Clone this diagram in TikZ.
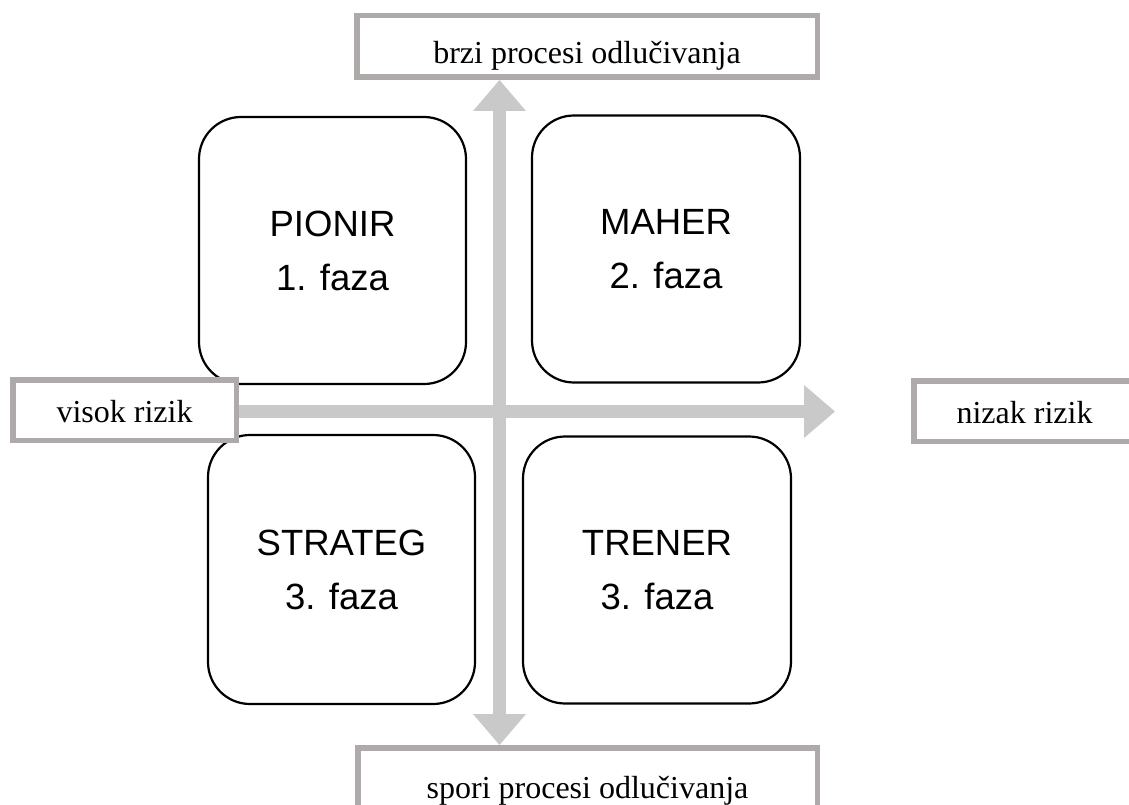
\documentclass[tikz,border=0pt]{standalone}
\usepackage{fontspec}
\setmainfont{Liberation Serif}
\newfontfamily\arialf{Liberation Sans}
\usetikzlibrary{arrows.meta,backgrounds}
\definecolor{lblgray}{HTML}{AEAAAA}
\definecolor{arrgray}{HTML}{C9C9C9}
\begin{document}
\begin{tikzpicture}[x=1pt,y=-1pt,
  lbl/.style={draw=lblgray, line width=5.5pt, fill=white, inner sep=0pt,
    font=\fontsize{32}{38}\selectfont, text depth=0pt},
  phase/.style={draw=black, line width=2.2pt, rounded corners=42pt, fill=white,
    minimum width=267pt, minimum height=267pt, inner sep=0pt, align=center,
    font=\arialf\fontsize{36.5}{54}\selectfont},
  axis/.style={draw=arrgray, line width=13pt, -{Triangle[length=31pt,width=53pt,line width=0pt]}},
  axisboth/.style={draw=arrgray, line width=13pt, {Triangle[length=31pt,width=53pt,line width=0pt]}-{Triangle[length=31pt,width=53pt,line width=0pt]}}]
\useasboundingbox (0,0) rectangle (1129,805);
\clip (0,0) rectangle (1129,805);

\node[phase] (pionir) at (332.5,250.5) {PIONIR\\1. faza};
\node[phase, minimum width=268pt] (maher) at (666,249) {MAHER\\2. faza};
\node[phase, minimum height=269pt] (strateg) at (341.5,569.5) {STRATEG\\3. faza};
\node[phase, minimum width=268pt] (trener) at (657,570) {TRENER\\3. faza};

\node[lbl, minimum width=460.5pt, minimum height=61.5pt, text height=33.6pt] (fast) at (587,46.5) {brzi procesi odlučivanja};
\node[lbl, minimum width=459.5pt, minimum height=61.5pt, text height=39.6pt] (slow) at (587.5,778.5) {spori procesi odlučivanja};
\node[lbl, minimum width=223.5pt, minimum height=60.5pt, text height=24pt] (high) at (124.5,410) {visok rizik};
\node[lbl, minimum width=221.5pt, minimum height=60.5pt, text height=24.6pt] (low) at (1024.5,411) {nizak rizik};

\coordinate (cross) at (499.5,411.5);
\coordinate (tipR) at (835,411.5);
\begin{scope}[on background layer]
\draw[axisboth] (cross |- slow.north) -- (cross |- fast.south);
\draw[axis] (cross -| high.east) -- (tipR);
\end{scope}
\end{tikzpicture}
\end{document}
